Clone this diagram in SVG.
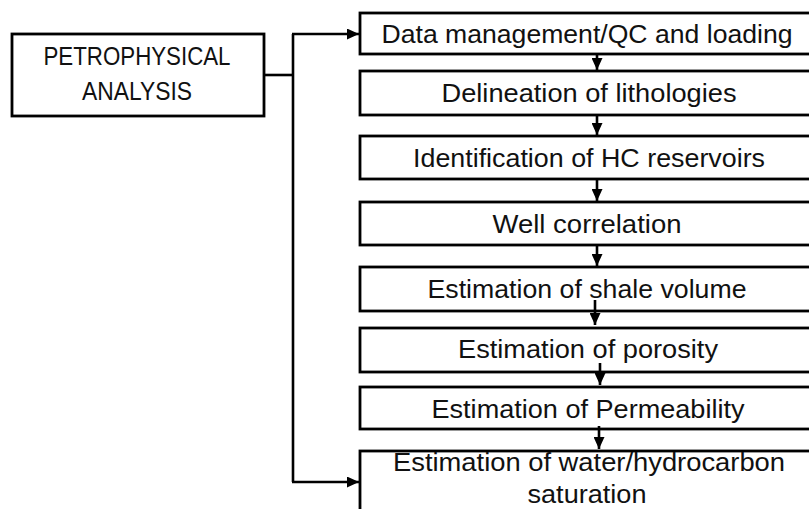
<svg xmlns="http://www.w3.org/2000/svg" width="809" height="509" viewBox="0 0 809 509">
<style>
.box{fill:#fff;stroke:#000;stroke-width:2.8}
.t{font-family:"Liberation Sans",Arial,sans-serif;font-size:25px;fill:#111;text-anchor:middle}
.c{fill:none;stroke:#000;stroke-width:2.6}
</style>
<defs>
<marker id="ah" markerUnits="userSpaceOnUse" markerWidth="12" markerHeight="11" refX="12" refY="5.5" orient="auto">
<path d="M0,0 L12,5.5 L0,11 z" fill="#000"/>
</marker>
</defs>
<rect width="809" height="509" fill="#fff"/>
<g id="petro">
<rect class="box" x="12" y="34" width="252" height="82"/>
<text class="t" x="137" y="65" textLength="187" lengthAdjust="spacingAndGlyphs">PETROPHYSICAL</text>
<text class="t" x="137" y="100" textLength="110" lengthAdjust="spacingAndGlyphs">ANALYSIS</text>
</g>
<g id="n1">
<rect class="box" x="360" y="13" width="460" height="41"/>
<text class="t" x="587" y="43" textLength="411" lengthAdjust="spacingAndGlyphs">Data management/QC and loading</text>
</g>
<g id="n2">
<rect class="box" x="360" y="71" width="460" height="44"/>
<text class="t" x="589" y="102" textLength="295" lengthAdjust="spacingAndGlyphs">Delineation of lithologies</text>
</g>
<g id="n3">
<rect class="box" x="360" y="136" width="460" height="43"/>
<text class="t" x="589" y="167" textLength="352" lengthAdjust="spacingAndGlyphs">Identification of HC reservoirs</text>
</g>
<g id="n4">
<rect class="box" x="360" y="202" width="460" height="43"/>
<text class="t" x="587" y="233" textLength="189" lengthAdjust="spacingAndGlyphs">Well correlation</text>
</g>
<g id="n5">
<rect class="box" x="360" y="267" width="460" height="44"/>
<text class="t" x="587" y="298" textLength="319" lengthAdjust="spacingAndGlyphs">Estimation of shale volume</text>
</g>
<g id="n6">
<rect class="box" x="360" y="328" width="460" height="44"/>
<text class="t" x="588" y="358" textLength="260" lengthAdjust="spacingAndGlyphs">Estimation of porosity</text>
</g>
<g id="n7">
<rect class="box" x="360" y="387" width="460" height="42"/>
<text class="t" x="588" y="418" textLength="313" lengthAdjust="spacingAndGlyphs">Estimation of Permeability</text>
</g>
<g id="n8">
<rect class="box" x="360" y="451" width="460" height="80"/>
<text class="t" x="589" y="471" textLength="392" lengthAdjust="spacingAndGlyphs">Estimation of water/hydrocarbon</text>
<text class="t" x="587" y="503" textLength="119" lengthAdjust="spacingAndGlyphs">saturation</text>
</g>
<g id="connectors">
<path class="c" d="M264,75 H293"/>
<path class="c" d="M293,34 V482"/>
<path class="c" d="M292,34 H359" marker-end="url(#ah)"/>
<path class="c" d="M292,482 H359" marker-end="url(#ah)"/>
<path class="c" d="M597,54 V70" marker-end="url(#ah)"/>
<path class="c" d="M597,115 V135" marker-end="url(#ah)"/>
<path class="c" d="M597,179 V201" marker-end="url(#ah)"/>
<path class="c" d="M597,245 V266" marker-end="url(#ah)"/>
<path class="c" d="M595,300 V325" marker-end="url(#ah)"/>
<path class="c" d="M600,363 V385" marker-end="url(#ah)"/>
<path class="c" d="M599,426 V449" marker-end="url(#ah)"/>
</g>
</svg>
